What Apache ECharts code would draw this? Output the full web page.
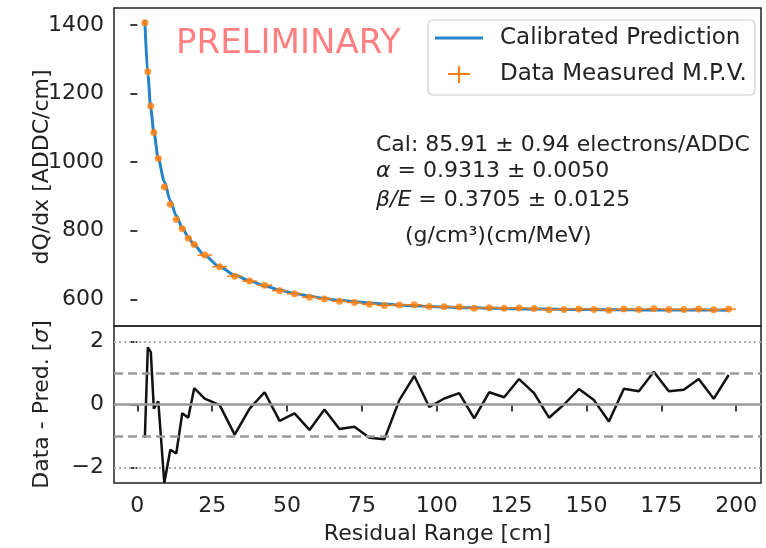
<!DOCTYPE html>
<html>
<head>
<meta charset="utf-8">
<script src="https://cdn.jsdelivr.net/npm/echarts@6/dist/echarts.min.js"></script>
<style>
html, body { margin: 0; padding: 0; background: #fff; }
#chart { width: 766px; height: 548px; }
</style>
</head>
<body>
<div id="chart"></div>
<script>
// residual range bin centres and half widths [cm]
var rr = [2.5, 3.5, 4.5, 5.5, 7, 9, 11, 13, 15, 17, 19,
    22.5, 27.5, 32.5, 37.5, 42.5, 47.5, 52.5, 57.5, 62.5, 67.5, 72.5, 77.5, 82.5, 87.5, 92.5, 97.5,
    102.5, 107.5, 112.5, 117.5, 122.5, 127.5, 132.5, 137.5, 142.5, 147.5, 152.5, 157.5, 162.5,
    167.5, 172.5, 177.5, 182.5, 187.5, 192.5, 197.5];
var rrErr = [0.5, 0.5, 0.5, 0.5, 1, 1, 1, 1, 1, 1, 1,
    2.5, 2.5, 2.5, 2.5, 2.5, 2.5, 2.5, 2.5, 2.5, 2.5, 2.5, 2.5, 2.5, 2.5, 2.5, 2.5,
    2.5, 2.5, 2.5, 2.5, 2.5, 2.5, 2.5, 2.5, 2.5, 2.5, 2.5, 2.5, 2.5,
    2.5, 2.5, 2.5, 2.5, 2.5, 2.5, 2.5];
// measured MPV dQ/dx [ADDC/cm]
var measured = [1407, 1264, 1164, 1087, 1011, 928, 877, 833, 806, 778, 760,
    729, 695, 667, 653, 641, 625, 616, 606, 601, 594, 590.5, 585.5, 582, 583.5, 584, 578.7,
    578.2, 577.3, 573.5, 575.4, 573.8, 574.8, 572.8, 569.5, 570.5, 571.7, 570.5, 567.6, 571.3,
    570.5, 572.6, 570.5, 570.1, 571.3, 569.1, 571.3];
// calibrated prediction [ADDC/cm]
var predicted = [1415, 1255, 1155, 1088, 1010, 944, 888, 844, 809, 781, 758,
    727, 695, 671, 654, 639, 627, 617, 609, 602, 597, 593, 589, 586, 583, 581, 579,
    577.5, 576, 575, 574, 573, 572, 571.5, 571, 570.5, 570, 570, 569.5, 569.5,
    569, 569, 569, 568.5, 568.5, 568.5, 568];
// (data - pred) / sigma
var pull = [-1.06, 1.82, 1.67, -0.13, 0.10, -2.5, -1.44, -1.56, -0.28, -0.42, 0.52,
    0.19, -0.02, -0.96, -0.13, 0.39, -0.52, -0.28, -0.81, -0.16, -0.78, -0.71, -1.06, -1.11, 0.14, 0.91, -0.08,
    0.19, 0.36, -0.44, 0.39, 0.23, 0.81, 0.36, -0.42, 0.0, 0.49, 0.14, -0.54, 0.5,
    0.42, 1.04, 0.42, 0.47, 0.81, 0.18, 0.94];

var xTicks = [0, 25, 50, 75, 100, 125, 150, 175, 200];
var yTicksTop = [600, 800, 1000, 1200, 1400];
var yTicksBottom = [-2, 0, 2];

var FONT = 'DejaVu Sans';
var BLUE = '#2484c6';
var ORANGE = '#ff7f0e';
var GREY = '#9a9a9a';

var chart = echarts.init(document.getElementById('chart'), null, { renderer: 'canvas' });

var lineData = rr.map(function (x, i) { return [x, predicted[i]]; });
var pointData = rr.map(function (x, i) { return [x, measured[i]]; });
var errData = rr.map(function (x, i) { return [x, measured[i], rrErr[i]]; });
var pullData = rr.map(function (x, i) { return [x, pull[i]]; });

function renderXErr(params, api) {
    var lo = api.coord([api.value(0) - api.value(2), api.value(1)]);
    var hi = api.coord([api.value(0) + api.value(2), api.value(1)]);
    return {
        type: 'line',
        shape: { x1: lo[0], y1: lo[1], x2: hi[0], y2: hi[1] },
        style: { stroke: ORANGE, lineWidth: 1.5 }
    };
}

// plain number, matplotlib style minus sign
function tickFmt(v) {
    return v < 0 ? '\u2212' + Math.abs(v) : String(v);
}

var tickStyle = { color: '#000', width: 1.5 };
var labelStyle = { color: '#222', fontFamily: FONT, fontSize: 22 };

var option = {
    animation: false,
    backgroundColor: '#fff',
    grid: [
        { left: 114, top: 8, width: 647, height: 318, show: true, borderColor: '#222', borderWidth: 1.5, backgroundColor: 'transparent' },
        { left: 114, top: 326, width: 647, height: 157, show: true, borderColor: '#222', borderWidth: 1.5, backgroundColor: 'transparent' }
    ],
    xAxis: [
        {
            gridIndex: 0, type: 'value', min: -7.8, max: 208.3,
            axisLine: { show: false }, axisTick: { show: false },
            axisLabel: { show: false }, splitLine: { show: false }
        },
        {
            gridIndex: 1, type: 'value', min: -7.8, max: 208.3,
            name: 'Residual Range [cm]', nameLocation: 'middle', nameGap: 40, nameMoveOverlap: false,
            nameTextStyle: labelStyle,
            axisLine: { show: false },
            axisTick: { show: true, length: 7, customValues: xTicks, lineStyle: tickStyle },
            axisLabel: { customValues: xTicks, margin: 12, color: '#222', fontFamily: FONT, fontSize: 22, formatter: tickFmt },
            splitLine: { show: false }
        }
    ],
    yAxis: [
        {
            gridIndex: 0, type: 'value', min: 522, max: 1450,
            name: 'dQ/dx [ADDC/cm]', nameLocation: 'middle', nameGap: 61, nameMoveOverlap: false,
            nameTextStyle: labelStyle,
            axisLine: { show: false },
            axisTick: { show: true, length: 7, customValues: yTicksTop, lineStyle: tickStyle },
            axisLabel: { customValues: yTicksTop, margin: 10, color: '#222', fontFamily: FONT, fontSize: 22, formatter: tickFmt },
            splitLine: { show: false }
        },
        {
            gridIndex: 1, type: 'value', min: -2.5, max: 2.5,
            name: 'Data - Pred. [{i|σ}]', nameLocation: 'middle', nameGap: 61, nameMoveOverlap: false,
            nameTextStyle: {
                color: '#222', fontFamily: FONT, fontSize: 22,
                rich: { i: { fontStyle: 'italic', fontFamily: FONT, fontSize: 22, color: '#222' } }
            },
            axisLine: { show: false },
            axisTick: { show: true, length: 7, customValues: yTicksBottom, lineStyle: tickStyle },
            axisLabel: { customValues: yTicksBottom, margin: 10, color: '#222', fontFamily: FONT, fontSize: 22, formatter: tickFmt },
            splitLine: { show: false }
        }
    ],
    series: [
        {
            name: 'Calibrated Prediction', type: 'line', xAxisIndex: 0, yAxisIndex: 0,
            data: lineData, showSymbol: false, smooth: 0.3, smoothMonotone: 'x',
            lineStyle: { color: BLUE, width: 3 }, z: 2
        },
        {
            name: 'xerr', type: 'custom', xAxisIndex: 0, yAxisIndex: 0,
            data: errData, renderItem: renderXErr, z: 3, silent: true
        },
        {
            name: 'Data Measured M.P.V.', type: 'scatter', xAxisIndex: 0, yAxisIndex: 0,
            data: pointData, symbol: 'circle', symbolSize: 7,
            itemStyle: { color: ORANGE }, z: 4
        },
        {
            name: 'bands', type: 'line', xAxisIndex: 1, yAxisIndex: 1, data: [], z: 1,
            markLine: {
                silent: true, symbol: 'none', label: { show: false }, animation: false,
                data: [
                    { yAxis: 0, lineStyle: { color: GREY, width: 2.5, type: 'solid' } },
                    { yAxis: 1, lineStyle: { color: GREY, width: 2.5, type: [9, 5] } },
                    { yAxis: -1, lineStyle: { color: GREY, width: 2.5, type: [9, 5] } },
                    { yAxis: 2, lineStyle: { color: '#aaaaaa', width: 2, type: [2, 3] } },
                    { yAxis: -2, lineStyle: { color: '#aaaaaa', width: 2, type: [2, 3] } }
                ]
            }
        },
        {
            name: 'pull', type: 'line', xAxisIndex: 1, yAxisIndex: 1,
            data: pullData, showSymbol: false,
            lineStyle: { color: '#111', width: 2.5 }, z: 3
        }
    ],
    graphic: [
        {
            type: 'text', x: 176, y: 44, silent: true,
            style: { text: 'PRELIMINARY', fill: '#ff8080', font: '34px "DejaVu Sans"', verticalAlign: 'middle' }
        },
        {
            type: 'text', x: 376, y: 145, silent: true,
            style: { text: 'Cal: 85.91 \u00b1 0.94 electrons/ADDC', fill: '#222', font: '22px "DejaVu Sans"', verticalAlign: 'middle' }
        },
        {
            type: 'text', x: 376, y: 171, silent: true,
            style: {
                text: '{i|\u03b1} = 0.9313 \u00b1 0.0050', fill: '#222', font: '22px "DejaVu Sans"', verticalAlign: 'middle',
                rich: { i: { fontStyle: 'italic', fontFamily: FONT, fontSize: 22, fill: '#222' } }
            }
        },
        {
            type: 'text', x: 376, y: 200, silent: true,
            style: {
                text: '{i|\u03b2/E} = 0.3705 \u00b1 0.0125', fill: '#222', font: '22px "DejaVu Sans"', verticalAlign: 'middle',
                rich: { i: { fontStyle: 'italic', fontFamily: FONT, fontSize: 22, fill: '#222' } }
            }
        },
        {
            type: 'text', x: 405, y: 236, silent: true,
            style: { text: '(g/cm\u00b3)(cm/MeV)', fill: '#222', font: '22px "DejaVu Sans"', verticalAlign: 'middle' }
        },
        // legend
        {
            type: 'rect', silent: true, z: 10,
            shape: { x: 428, y: 20, width: 327, height: 75, r: 5 },
            style: { fill: 'rgba(255,255,255,0.8)', stroke: '#d0d0d0', lineWidth: 1.2 }
        },
        {
            type: 'line', silent: true, z: 11,
            shape: { x1: 435, y1: 38, x2: 483, y2: 38 },
            style: { stroke: BLUE, lineWidth: 3 }
        },
        {
            type: 'line', silent: true, z: 11,
            shape: { x1: 448, y1: 74, x2: 470, y2: 74 },
            style: { stroke: ORANGE, lineWidth: 2 }
        },
        {
            type: 'line', silent: true, z: 11,
            shape: { x1: 459, y1: 66, x2: 459, y2: 83 },
            style: { stroke: ORANGE, lineWidth: 2 }
        },
        {
            type: 'text', x: 500, y: 38, silent: true, z: 11,
            style: { text: 'Calibrated Prediction', fill: '#222', font: '23px "DejaVu Sans"', verticalAlign: 'middle' }
        },
        {
            type: 'text', x: 500, y: 74, silent: true, z: 11,
            style: { text: 'Data Measured M.P.V.', fill: '#222', font: '23px "DejaVu Sans"', verticalAlign: 'middle' }
        }
    ]
};

chart.setOption(option);
window.addEventListener('resize', function () { chart.resize(); });
</script>
</body>
</html>
